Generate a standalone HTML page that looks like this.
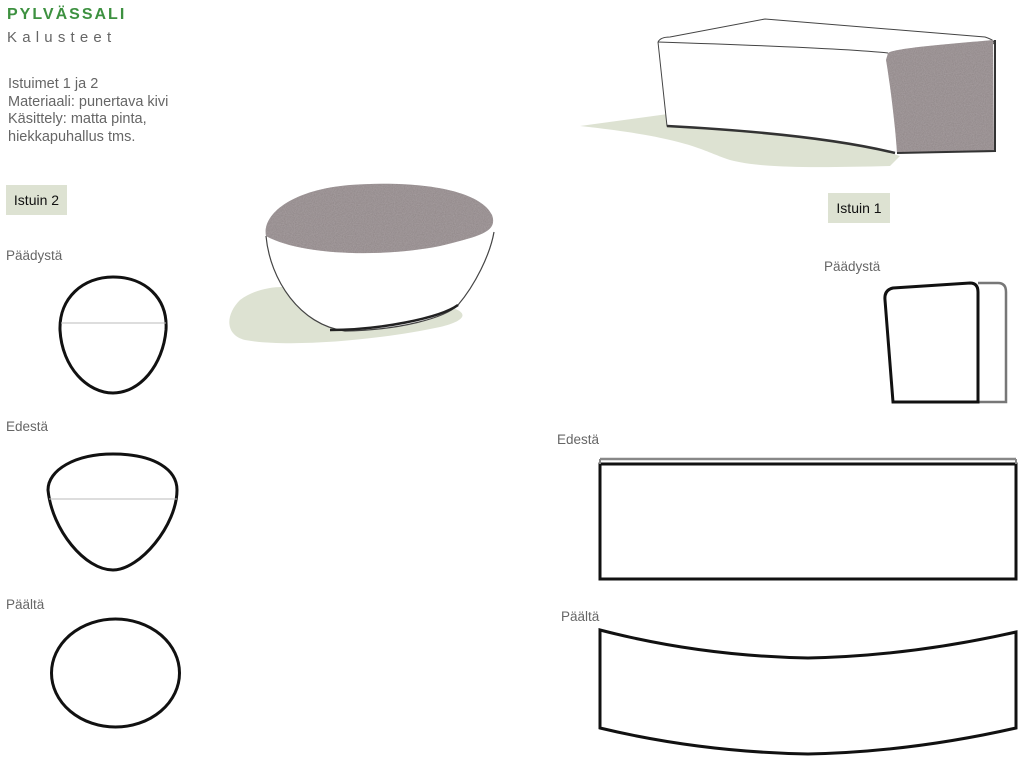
<!DOCTYPE html>
<html><head><meta charset="utf-8"><style>
body{margin:0;width:1024px;height:762px;background:#fff;position:relative;overflow:hidden;font-family:"Liberation Sans",sans-serif;}
.t{position:absolute;color:#666;font-size:13.5px;white-space:nowrap}
.tag{position:absolute;background:#dde2d2;color:#111;font-size:14px;padding:0;text-align:center;line-height:30px}
</style></head><body>
<div style="position:absolute;left:7px;top:6px;color:#3d9140;font-weight:bold;font-size:16px;letter-spacing:2px">PYLVÄSSALI</div>
<div style="position:absolute;left:7px;top:29px;color:#666;font-size:15px;letter-spacing:5.2px">Kalusteet</div>
<div class="t" style="left:8px;top:76px;line-height:17.5px;font-size:14.5px">Istuimet 1 ja 2<br>Materiaali: punertava kivi<br>Käsittely: matta pinta,<br>hiekkapuhallus tms.</div>
<div class="tag" style="left:6px;top:185px;width:61px">Istuin 2</div>
<div class="tag" style="left:828px;top:193px;width:62px">Istuin 1</div>
<div class="t" style="left:6px;top:248px">Päädystä</div>
<div class="t" style="left:6px;top:419px">Edestä</div>
<div class="t" style="left:6px;top:597px">Päältä</div>
<div class="t" style="left:824px;top:259px">Päädystä</div>
<div class="t" style="left:557px;top:432px">Edestä</div>
<div class="t" style="left:561px;top:609px">Päältä</div>
<svg width="1024" height="762" style="position:absolute;left:0;top:0">
<defs><filter id="n"><feTurbulence type="fractalNoise" baseFrequency="0.9" numOctaves="2" result="t"/><feColorMatrix type="matrix" values="0 0 0 0 0.55 0 0 0 0 0.5 0 0 0 0 0.52 0 0 0 0.5 0" in="t" result="c"/><feComposite in="c" in2="SourceGraphic" operator="in"/></filter></defs>
<!-- bowl shadow -->
<path d="M240 300 C260 285 290 285 300 290 L440 305 C470 310 470 320 440 327 C380 340 290 348 245 340 C225 335 225 315 240 300Z" fill="#dde2d2"/>
<path d="M266 236 C270 280 300 325 345 331 C400 330 445 318 458 305 C475 285 490 255 494 232" fill="#fff" stroke="#444" stroke-width="1.2"/>
<path d="M330 330 C380 330 440 318 458 305" fill="none" stroke="#222" stroke-width="2.5"/>
<path d="M266 236 C262 215 290 190 350 185 C420 180 480 190 492 215 C498 232 480 236 440 246 C380 258 300 255 266 236Z" fill="#8e8586"/>
<path d="M266 236 C262 215 290 190 350 185 C420 180 480 190 492 215 C498 232 480 236 440 246 C380 258 300 255 266 236Z" fill="#8e8586" filter="url(#n)"/>
<!-- block -->
<path d="M580 126 L668 114 L668 126 C760 132 850 140 900 156 L890 166 C810 168 760 168 730 160 C700 150 690 138 580 126Z" fill="#dde2d2"/>
<path d="M663 37 L765 19 L985 36 C995 38 994 42 994 42 L994 150 L895 152 L896 58 C880 50 800 45 663 40Z" fill="#fff"/>
<path d="M658 42 C660 38 665 37 670 37 L765 19 L985 37 C994 40 995 42 993 44" fill="none" stroke="#444" stroke-width="1"/>
<path d="M658 42 L667 126 C780 132 850 142 895 153" fill="#fff" stroke="#444" stroke-width="1"/>
<path d="M658 42 C780 46 860 50 888 53" fill="none" stroke="#444" stroke-width="1"/>
<path d="M667 126 C780 132 850 142 895 153" fill="none" stroke="#333" stroke-width="2.5"/>
<path d="M888 53 C895 48 950 44 993 40 L994 152 L897 153 C895 120 888 70 886 60Z" fill="#8e8586"/>
<path d="M888 53 C895 48 950 44 993 40 L994 152 L897 153 C895 120 888 70 886 60Z" fill="#8e8586" filter="url(#n)"/>
<path d="M897 153 L995 151 L995 40" fill="none" stroke="#333" stroke-width="2"/>
<!-- left orthographic -->
<path d="M113 277 C145 277 168 298 166 330 C163 365 140 393 113 393 C88 393 62 368 60 330 C59 298 83 277 113 277Z" fill="none" stroke="#111" stroke-width="3"/>
<line x1="61" y1="323" x2="166" y2="323" stroke="#bbb" stroke-width="1"/>
<path d="M48 490 C48 470 75 454 113 454 C155 454 177 470 177 490 C177 525 140 570 113 570 C85 570 52 530 48 490Z" fill="none" stroke="#111" stroke-width="3"/>
<line x1="49" y1="499" x2="177" y2="499" stroke="#bbb" stroke-width="1"/>
<ellipse cx="115.5" cy="673" rx="64" ry="54" fill="none" stroke="#111" stroke-width="3"/>
<!-- right orthographic -->
<path d="M978 283 L998 283 Q1006 283 1006 292 L1006 402 L978 402" fill="none" stroke="#777" stroke-width="2.5"/>
<path d="M893 402 L885 300 Q884 290 893 288 L970 283 Q978 283 978 292 L978 402 Z" fill="none" stroke="#111" stroke-width="3"/>
<line x1="600" y1="459" x2="1016" y2="459" stroke="#888" stroke-width="2.5"/>
<rect x="600" y="464" width="416" height="115" fill="none" stroke="#111" stroke-width="3"/>
<line x1="600" y1="459" x2="600" y2="464" stroke="#888" stroke-width="2"/>
<line x1="1016" y1="459" x2="1016" y2="464" stroke="#888" stroke-width="2"/>
<path d="M600 630 Q700 656 808 658 Q910 656 1016 632 L1016 728 Q910 752 808 754 Q700 752 600 728 Z" fill="none" stroke="#111" stroke-width="3"/>
</svg>
</body></html>
